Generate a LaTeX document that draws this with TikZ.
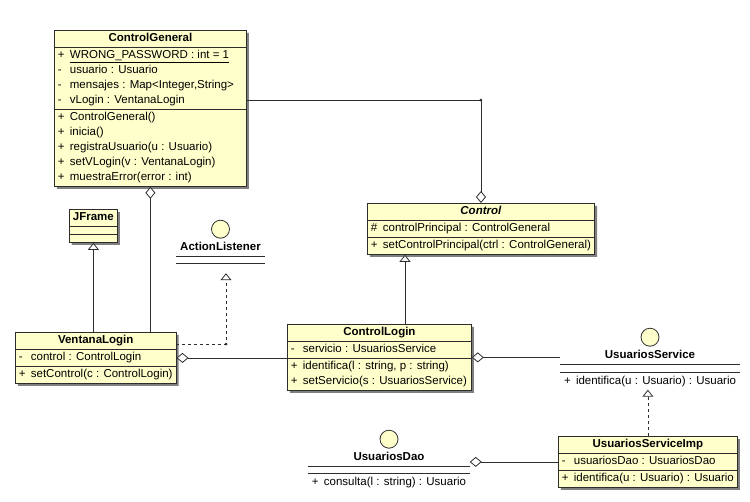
\documentclass[tikz,border=0pt]{standalone}
\usepackage{fontspec}
\setmainfont{Liberation Sans}
\usepackage{tikz}
\usetikzlibrary{arrows.meta, positioning, shapes.multipart, shadows}

\definecolor{umlfill}{RGB}{255,255,204}
\definecolor{umlline}{RGB}{45,45,45}

\newcommand{\vis}[2]{\makebox[12pt][l]{#1}#2\strut}
\newcommand{\blankpart}[1]{\rule{0pt}{#1}}

\begin{document}
\begin{tikzpicture}[
        x=1pt, y=-1pt,
        font=\fontsize{11.5}{15}\selectfont,
        umlclass/.style={
            draw=umlline,
            line width=0.8pt,
            fill=umlfill,
            rectangle split,
            rectangle split parts=3,
            rectangle split part align={center, left, left},
            align=left,
            anchor=north west,
            inner xsep=3.5pt,
            inner ysep=0.6pt,
            drop shadow={shadow xshift=2.5pt, shadow yshift=-2.5pt, fill=black!50, opacity=1}
        },
        iface/.style={
            rectangle split,
            rectangle split parts=2,
            rectangle split part align={left, left},
            align=left,
            anchor=north,
            inner xsep=3.5pt,
            inner ysep=0.75pt
        },
        ifname/.style={inner ysep=1pt, text height=10.5pt, text depth=4.5pt, font=\fontsize{11.5}{15}\selectfont\bfseries},
        ifcircle/.style={circle, draw=umlline, fill=umlfill, line width=0.8pt, minimum size=18pt, inner sep=0pt},
        link/.style={draw=umlline, line width=0.8pt},
        agg/.style={link, {Diamond[fill=white, length=12pt, width=10pt]}-},
        inherit/.style={link, -{Triangle[fill=white, length=7pt, width=11pt]}},
        realize/.style={link, dashed, -{Triangle[fill=white, length=7pt, width=11pt]}},
        joint/.style={circle, fill=umlline, inner sep=0pt, minimum size=3pt}
    ]
    \useasboundingbox (0,0) rectangle (750,501);

    % classes
    \node[umlclass, minimum width=192pt] (cg) at (54,30) {\textbf{ControlGeneral}\strut
        \nodepart{second}\vis{+}{\underline{WRONG\_PASSWORD : int = 1}}\\
        \vis{-}{usuario : Usuario}\\
        \vis{-}{mensajes : Map<Integer,String>}\\
        \vis{-}{vLogin : VentanaLogin}
        \nodepart{third}\vis{+}{ControlGeneral()}\\
        \vis{+}{inicia()}\\
        \vis{+}{registraUsuario(u : Usuario)}\\
        \vis{+}{setVLogin(v : VentanaLogin)}\\
        \vis{+}{muestraError(error : int)}};
    \node[umlclass, minimum width=225pt] (ctrl) at (367,203) {\textbf{\textit{Control}}\strut
        \nodepart{second}\vis{\#}{controlPrincipal : ControlGeneral}
        \nodepart{third}\vis{+}{setControlPrincipal(ctrl : ControlGeneral)}};
    \node[umlclass, minimum width=48pt] (jf) at (69,209) {\textbf{JFrame}\strut
        \nodepart{second}\blankpart{6pt}
        \nodepart{third}\blankpart{6pt}};
    \node[umlclass, minimum width=159pt] (vl) at (15,332) {\textbf{VentanaLogin}\strut
        \nodepart{second}\vis{-}{control : ControlLogin}
        \nodepart{third}\vis{+}{setControl(c : ControlLogin)}};
    \node[umlclass, minimum width=184pt] (cl) at (287,324) {\textbf{ControlLogin}\strut
        \nodepart{second}\vis{-}{servicio : UsuariosService}
        \nodepart{third}\vis{+}{identifica(l : string, p : string)}\\
        \vis{+}{setServicio(s : UsuariosService)}};
    \node[umlclass, minimum width=178pt] (usi) at (558,436) {\textbf{UsuariosServiceImp}\strut
        \nodepart{second}\vis{-}{usuariosDao : UsuariosDao}
        \nodepart{third}\vis{+}{identifica(u : Usuario) : Usuario}};

    % interfaces
    \node[iface, minimum width=89pt] (al) at (220.5,256) {\blankpart{5.5pt}\nodepart{second}\blankpart{7.5pt}};
    \node[ifname, above=0pt of al] (alname) {ActionListener};
    \node[ifcircle, above=0pt of alname] (alcirc) {};
    \draw[link] (al.north west) -- (al.north east);
    \draw[link] (al.text split west) -- (al.text split east);

    \node[iface, minimum width=178pt] (us) at (650,364) {\blankpart{6.5pt}
        \nodepart{second}\vis{+}{identifica(u : Usuario) : Usuario}};
    \node[ifname, above=0pt of us] (usname) {UsuariosService};
    \node[ifcircle, above=0pt of usname] (uscirc) {};
    \draw[link] (us.north west) -- (us.north east);
    \draw[link] (us.text split west) -- (us.text split east);

    \node[iface, minimum width=160pt] (ud) at (389,466) {\blankpart{5.5pt}
        \nodepart{second}\vis{+}{consulta(l : string) : Usuario}};
    \node[ifname, above=0pt of ud] (udname) {UsuariosDao};
    \node[ifcircle, above=0pt of udname] (udcirc) {};
    \draw[link] (ud.north west) -- (ud.north east);
    \draw[link] (ud.text split west) -- (ud.text split east);

    % relations
    \draw[agg] (ctrl.north) |- (cg.east |- 0,100);
    \node[joint] (cgdot) at (ctrl.north |- 0,100) {};
    \draw[agg] (cg.south) -- (cg.south |- vl.north);
    \draw[inherit] (vl.north -| jf.south) -- (jf.south);
    \coordinate (albend) at (226,344);
    \draw[realize] (vl.east |- albend) -- (albend) -- (albend |- al.south);
    \node[joint] (aldot) at (albend) {};
    \draw[agg] (vl.east) -- (vl.east -| cl.west);
    \draw[inherit] (cl.north -| 405,0) -- (ctrl.south -| 405,0);
    \draw[agg] (cl.east) -- (cl.east -| us.west);
    \draw[realize] (usi.north) -- (usi.north |- us.south);
    \draw[agg] (usi.west -| ud.east) -- (usi.west);
\end{tikzpicture}
\end{document}
